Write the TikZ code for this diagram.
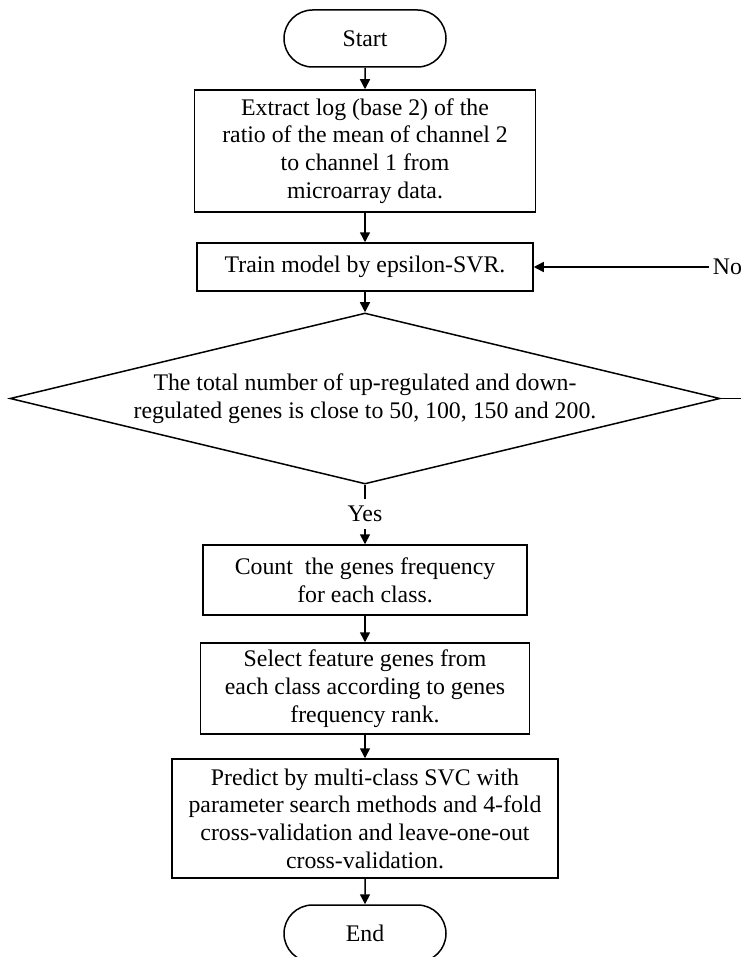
\documentclass[tikz,border=0pt]{standalone}
\usepackage{fontspec}
\setmainfont{Liberation Serif}
\usetikzlibrary{arrows.meta,shapes.geometric,shapes.misc}
\tikzset{
  terminal/.style={
    shape = rounded rectangle,
    draw,
    minimum width = 81pt,
    minimum height = 28.5pt,
    inner sep = 0pt
  },
  process/.style={
    shape = rectangle,
    draw,
    align = center,
    inner sep = 0pt
  },
  decision/.style={
    shape = diamond,
    draw,
    align = center,
    aspect = 4.15,
    inner sep = 0pt,
    minimum width = 355pt,
    minimum height = 85.5pt
  },
  lbl/.style={
    inner sep = 1.5pt
  },
  flow/.style={
    -{Triangle[width=5pt,length=5pt]}
  }
}
\begin{document}
\begin{tikzpicture}[x=0.5pt, y=-0.5pt, line width=0.75pt, font=\fontsize{11.9}{13.85}\selectfont]
    \useasboundingbox (0,0) rectangle (740,957);
    \def\cx{365}
    \node[terminal] (start) at (\cx,38.5) {Start};
    \node[process, minimum width=170.5pt, minimum height=61pt] (extract) at (\cx,151)
      {Extract log (base 2) of the\\ratio of the mean of channel 2\\to channel 1 from\\microarray data.};
    \node[process, minimum width=168pt, minimum height=24pt] (train) at (\cx,267) {Train model by epsilon-SVR.};
    \node[decision] (dia) at (\cx,398.5)
      {The total number of up-regulated and down-\\regulated genes is close to 50, 100, 150 and 200.};
    \node[inner sep=0pt, minimum height=14pt] (yes) at (\cx,514) {Yes};
    \node[process, minimum width=162pt, minimum height=35pt] (count) at (\cx,580) {Count\ \ the genes frequency\\for each class.};
    \node[process, minimum width=164.5pt, minimum height=45.5pt] (select) at (\cx,688.5)
      {Select feature genes from\\each class according to genes\\frequency rank.};
    \node[process, minimum width=193pt, minimum height=59.5pt] (predict) at (\cx,818.5)
      {Predict by multi-class SVC with\\parameter search methods and 4-fold\\cross-validation and leave-one-out\\cross-validation.};
    \node[terminal] (stop) at (\cx,933.5) {End};
    \node[lbl] (no) at (727.5,267) {No};
    \draw[flow] (start) -- (extract);
    \draw[flow] (extract) -- (train);
    \draw[flow] (train) -- (dia);
    \draw (dia) -- (yes);
    \draw[flow] (yes) -- (count);
    \draw[flow] (count) -- (select);
    \draw[flow] (select) -- (predict);
    \draw[flow] (predict) -- (stop);
    % loop back when the count is off
    \draw (dia.east) -- ++(40,0) |- (no.east);
    \draw[flow] (no.west) -- (train.east);
\end{tikzpicture}
\end{document}
